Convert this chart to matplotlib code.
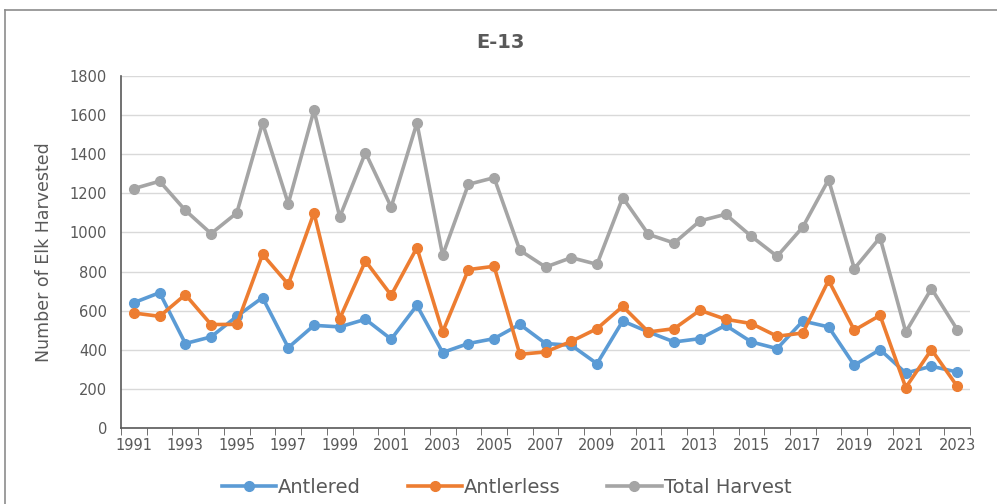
import numpy as np
import matplotlib.pyplot as plt
from matplotlib.ticker import MultipleLocator, FixedLocator

years = list(range(1991, 2024))
antlered = [641, 692, 432, 466, 571, 667, 411, 525, 517, 556, 454,
            627, 386, 432, 457, 530, 432, 423, 329, 547, 491, 440,
            457, 525, 440, 406, 547, 517, 321, 401, 281, 316, 286]
antlerless = [588, 571, 682, 529, 530, 888, 735, 1100, 559, 854, 679,
              922, 491, 810, 827, 377, 389, 443, 508, 622, 491, 508,
              602, 556, 534, 469, 486, 755, 500, 576, 207, 401, 213]
total = [1224, 1262, 1113, 994, 1100, 1560, 1147, 1625, 1079, 1408, 1130,
         1560, 883, 1246, 1280, 909, 823, 871, 837, 1178, 990, 946,
         1059, 1093, 980, 878, 1028, 1270, 815, 974, 491, 713, 503]

txt = '#595959'
fig = plt.figure(figsize=(9.97, 5.04), dpi=100)
ax = fig.add_axes([0.1214, 0.1508, 0.8516, 0.6984])

series = [('Antlered', antlered, '#5B9BD5'),
          ('Antlerless', antlerless, '#ED7D31'),
          ('Total Harvest', total, '#A5A5A5')]
for name, vals, col in series:
    ax.plot(years, vals, color=col, lw=2.6, marker='o', ms=7, label=name)

ax.set_xlim(1990.5, 2023.5)
ax.set_ylim(0, 1800)
ax.yaxis.set_major_locator(MultipleLocator(200))
ax.grid(axis='y', color='#D9D9D9', lw=1)
ax.set_axisbelow(True)

ax.set_xticks(years[::2])
ax.xaxis.set_minor_locator(FixedLocator(np.arange(1990.5, 2024, 1)))
ax.tick_params(axis='x', which='major', length=0, pad=7, labelsize=10.5, labelcolor=txt)
ax.tick_params(axis='x', which='minor', length=5, color='#595959', direction='out')
ax.tick_params(axis='y', length=0, pad=10, labelsize=10.5, labelcolor=txt)

for s in ['top', 'right']:
    ax.spines[s].set_visible(False)
for s in ['left', 'bottom']:
    ax.spines[s].set_color('#595959')
    ax.spines[s].set_linewidth(1.2)

ax.set_ylabel('Number of Elk Harvested', fontsize=12.5, color=txt, labelpad=12)
fig.text(0.502, 0.915, 'E-13', ha='center', va='center', fontsize=14,
         fontweight='bold', color=txt)

fig.legend(loc='center', bbox_to_anchor=(0.508, 0.033), ncol=3, frameon=False,
           fontsize=14, labelcolor=txt, handlelength=2.8, columnspacing=2.4,
           handletextpad=0.1)

# outer chart border
fig.add_artist(plt.Line2D([5/997, 5/997], [0, 1 - 10/504], color='#8C8C8C', lw=1.2,
                          transform=fig.transFigure))
fig.add_artist(plt.Line2D([5/997, 1], [1 - 10/504, 1 - 10/504], color='#8C8C8C', lw=1.2,
                          transform=fig.transFigure))

fig.savefig('out.png', dpi=100)
